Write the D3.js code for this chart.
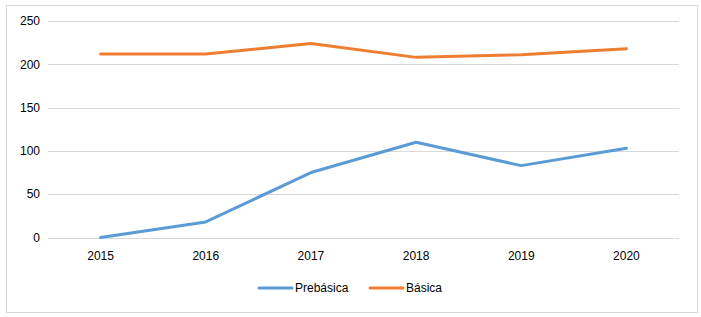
<!DOCTYPE html>
<html>
<head>
<meta charset="utf-8">
<script src="https://cdn.jsdelivr.net/npm/d3@7"></script>
<style>
  body { margin: 0; background: #fff; }
  text { font-family: "Liberation Sans", Arial, sans-serif; fill: #000; }
</style>
</head>
<body>
<div id="chart"></div>
<script>
// data
const years = ["2015", "2016", "2017", "2018", "2019", "2020"];
const prebasica = [0, 18, 75, 110, 83, 103];
const basica = [212, 212, 224, 208, 211, 218];
const yTicks = [0, 50, 100, 150, 200, 250];
const seriesNames = ["Prebásica", "Básica"];
const seriesColors = ["#5b9bd5", "#ed7d31"];

const width = 701, height = 317;
const margin = { left: 48, right: 22, top: 21, bottom: 79.5 };

const svg = d3.select("#chart")
    .append("svg")
    .attr("width", width)
    .attr("height", height);

// chart frame
svg.append("rect")
    .attr("x", 6.5).attr("y", 5.5)
    .attr("width", 691).attr("height", 307)
    .attr("fill", "#fff")
    .attr("stroke", "#d9d9d9");

const x = d3.scaleBand()
    .domain(years)
    .range([margin.left, width - margin.right]);

const y = d3.scaleLinear()
    .domain([0, 250])
    .range([height - margin.bottom, margin.top]);

// gridlines
svg.append("g")
    .selectAll("line")
    .data(yTicks)
    .enter()
    .append("line")
    .attr("x1", margin.left)
    .attr("x2", width - margin.right)
    .attr("y1", d => Math.round(y(d)) + 0.5)
    .attr("y2", d => Math.round(y(d)) + 0.5)
    .attr("stroke", "#d9d9d9")
    .attr("stroke-width", 1);

// y labels
svg.append("g")
    .selectAll("text")
    .data(yTicks)
    .enter()
    .append("text")
    .attr("x", 40)
    .attr("y", d => y(d))
    .attr("dy", "0.35em")
    .attr("text-anchor", "end")
    .attr("font-size", "12px")
    .text(d => d);

// x labels
svg.append("g")
    .selectAll("text")
    .data(years)
    .enter()
    .append("text")
    .attr("x", d => x(d) + x.bandwidth() / 2)
    .attr("y", height - margin.bottom + 18)
    .attr("dy", "0.35em")
    .attr("text-anchor", "middle")
    .attr("font-size", "12px")
    .text(d => d);

const line = d3.line()
    .x((d, i) => x(years[i]) + x.bandwidth() / 2)
    .y(d => y(d));

[prebasica, basica].forEach((vals, i) => {
    svg.append("path")
        .datum(vals)
        .attr("d", line)
        .attr("fill", "none")
        .attr("stroke", seriesColors[i])
        .attr("stroke-width", 3)
        .attr("stroke-linejoin", "round")
        .attr("stroke-linecap", "round");
});

// legend
const legendX = [259, 370];
const legendY = 288;
seriesNames.forEach((name, i) => {
    const g = svg.append("g").attr("transform", `translate(${legendX[i]}, ${legendY})`);
    g.append("line")
        .attr("x1", 0).attr("x2", 33)
        .attr("y1", 0).attr("y2", 0)
        .attr("stroke", seriesColors[i])
        .attr("stroke-width", 3)
        .attr("stroke-linecap", "round");
    g.append("text")
        .attr("x", 36)
        .attr("y", 0)
        .attr("dy", "0.35em")
        .attr("font-size", "12px")
        .text(name);
});
</script>
</body>
</html>
